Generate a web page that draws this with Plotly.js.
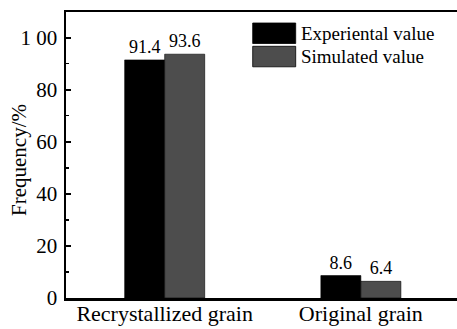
<!DOCTYPE html>
<html><head><meta charset="utf-8">
<script src="https://cdn.plot.ly/plotly-3.0.1.min.js"></script>
<style>html,body{margin:0;padding:0;background:#fff}#c{width:457px;height:329px}</style>
</head><body><div id="c"></div>
<script>
var categories = ["Recrystallized grain", "Original grain"];
var experientalValues = [91.4, 8.6];
var simulatedValues = [93.6, 6.4];
var seriesNames = ["Experiental value", "Simulated value"];
var yTickVals = [0, 20, 40, 60, 80, 100];
var yTickText = ["0", "20", "40", "60", "80", "1 00"];
var yTitle = "Frequency/%";

var font = "Liberation Serif, Times New Roman, serif";
var colors = ["#000000", "#4d4d4d"];

var traces = [experientalValues, simulatedValues].map(function (vals, i) {
  return {
    type: "bar", x: categories, y: vals, name: seriesNames[i],
    marker: {color: colors[i], line: {color: "#000", width: 0.6}},
    text: vals.map(function (v) { return v.toFixed(1); }),
    textposition: "outside", cliponaxis: false,
    textfont: {family: font, size: 18, color: "#000"},
    showlegend: false, hoverinfo: "none"
  };
});

var shapes = [], annotations = [];
seriesNames.forEach(function (n, i) {
  var y0 = 1 - (23 + i * 23.3 - 12) / 286;
  shapes.push({type: "rect", xref: "paper", yref: "paper",
    x0: (252.7 - 66) / 391, x1: (295.7 - 66) / 391,
    y0: y0 - 20.5 / 286, y1: y0,
    fillcolor: colors[i], line: {color: "#000", width: 0.8}});
  annotations.push({xref: "paper", yref: "paper", x: (299 - 66) / 391, y: y0 - 10.25 / 286,
    xanchor: "left", yanchor: "middle", text: n, showarrow: false,
    font: {family: font, size: 19, color: "#000"}});
});
annotations.push({xref: "paper", yref: "paper", x: (19.5 - 66) / 391, y: (298 - 160.5) / 286,
  xanchor: "center", yanchor: "middle", textangle: -90, text: yTitle, showarrow: false,
  font: {family: font, size: 21, color: "#000"}});

var layout = {
  width: 457, height: 329,
  margin: {l: 66, r: 0, t: 12, b: 31},
  paper_bgcolor: "#fff", plot_bgcolor: "#fff",
  barmode: "group", bargap: 0.592, bargroupgap: 0,
  font: {family: font, color: "#000", size: 21},
  xaxis: {
    range: [-0.503, 1.49], showgrid: false, zeroline: false,
    showline: true, linecolor: "#000", linewidth: 2.5, mirror: "ticks",
    ticks: "", tickfont: {family: font, size: 22}, ticklabelstandoff: -6
  },
  yaxis: {
    range: [0, 109.8], showgrid: false, zeroline: false,
    showline: true, linecolor: "#000", linewidth: 2.5,
    ticks: "inside", ticklen: 5, tickwidth: 2, tickcolor: "#000",
    tickvals: yTickVals, ticktext: yTickText,
    minor: {dtick: 10, ticks: "inside", ticklen: 3, tickwidth: 1.5, tickcolor: "#000"},
    tickfont: {family: font, size: 21}, ticklabelstandoff: 2
  },
  shapes: shapes, annotations: annotations
};
Plotly.newPlot("c", traces, layout, {displayModeBar: false, staticPlot: true});
</script></body></html>
